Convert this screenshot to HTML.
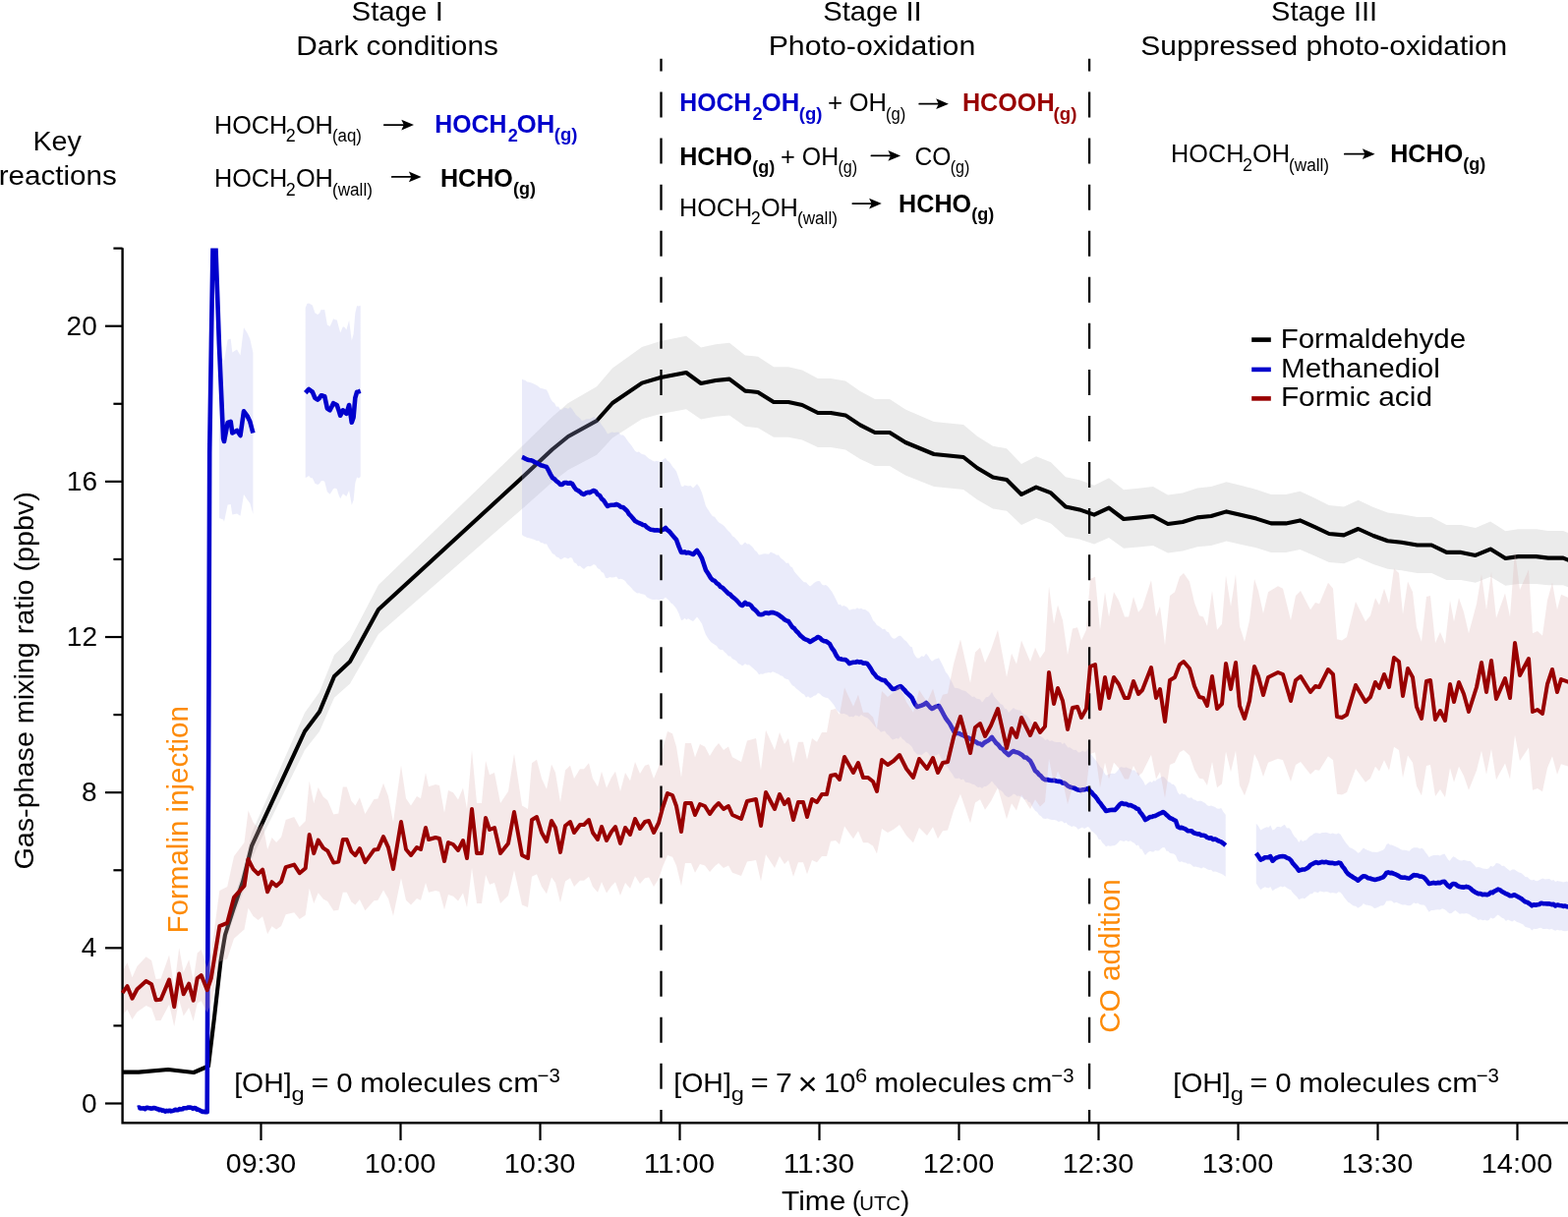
<!DOCTYPE html>
<html><head><meta charset="utf-8"><title>Formaldehyde, methanediol and formic acid time series</title>
<style>html,body{margin:0;padding:0;background:#fff;}svg{display:block;}text{font-family:"Liberation Sans", Arial, Helvetica, sans-serif;}</style>
</head><body>
<svg width="1595" height="1238" viewBox="0 0 1595 1238">
<rect width="1595" height="1238" fill="#fff"/>
<text x="357.59" y="21.30" font-size="28" textLength="93.23" lengthAdjust="spacingAndGlyphs">Stage I</text>
<text x="301.30" y="55.80" font-size="28" textLength="205.66" lengthAdjust="spacingAndGlyphs">Dark conditions</text>
<text x="837.20" y="21.30" font-size="28" textLength="100.53" lengthAdjust="spacingAndGlyphs">Stage II</text>
<text x="781.66" y="55.80" font-size="28" textLength="210.64" lengthAdjust="spacingAndGlyphs">Photo-oxidation</text>
<text x="1293.11" y="21.30" font-size="28" textLength="107.94" lengthAdjust="spacingAndGlyphs">Stage III</text>
<text x="1160.26" y="55.80" font-size="28" textLength="372.98" lengthAdjust="spacingAndGlyphs">Suppressed photo-oxidation</text>
<text x="33.40" y="152.90" font-size="28" textLength="49.40" lengthAdjust="spacingAndGlyphs">Key</text>
<text x="-1.35" y="188.10" font-size="28" textLength="120.18" lengthAdjust="spacingAndGlyphs">reactions</text>
<text x="217.98" y="135.50" font-size="25" textLength="74.35" lengthAdjust="spacingAndGlyphs">HOCH</text>
<text x="290.81" y="143.90" font-size="18" textLength="9.95" lengthAdjust="spacingAndGlyphs">2</text>
<text x="300.93" y="135.50" font-size="25" textLength="37.99" lengthAdjust="spacingAndGlyphs">OH</text>
<text x="337.96" y="143.70" font-size="18" textLength="29.99" lengthAdjust="spacingAndGlyphs">(aq)</text>
<line x1="390.80" y1="127.10" x2="412.00" y2="127.10" stroke="#000" stroke-width="1.75" stroke-linecap="round"/>
<path d="M421.00,127.10 L408.30,121.70 L410.80,127.10 L408.30,132.50 Z" fill="#000"/>
<text x="442.36" y="135.10" font-size="25" font-weight="bold" fill="#0000cc" textLength="73.03" lengthAdjust="spacingAndGlyphs">HOCH</text>
<text x="516.70" y="143.70" font-size="18" font-weight="bold" fill="#0000cc" textLength="10.07" lengthAdjust="spacingAndGlyphs">2</text>
<text x="525.87" y="135.10" font-size="25" font-weight="bold" fill="#0000cc" textLength="38.46" lengthAdjust="spacingAndGlyphs">OH</text>
<text x="563.83" y="143.30" font-size="18" font-weight="bold" fill="#0000cc" textLength="23.69" lengthAdjust="spacingAndGlyphs">(g)</text>
<text x="217.98" y="190.30" font-size="25" textLength="74.35" lengthAdjust="spacingAndGlyphs">HOCH</text>
<text x="290.81" y="198.70" font-size="18" textLength="9.95" lengthAdjust="spacingAndGlyphs">2</text>
<text x="300.93" y="190.30" font-size="25" textLength="37.99" lengthAdjust="spacingAndGlyphs">OH</text>
<text x="337.95" y="198.50" font-size="18" textLength="41.01" lengthAdjust="spacingAndGlyphs">(wall)</text>
<line x1="398.80" y1="179.90" x2="419.60" y2="179.90" stroke="#000" stroke-width="1.75" stroke-linecap="round"/>
<path d="M428.60,179.90 L415.90,174.50 L418.40,179.90 L415.90,185.30 Z" fill="#000"/>
<text x="447.94" y="189.80" font-size="25" font-weight="bold" textLength="73.92" lengthAdjust="spacingAndGlyphs">HCHO</text>
<text x="522.05" y="198.00" font-size="18" font-weight="bold">(g)</text>
<text x="691.26" y="113.30" font-size="25" font-weight="bold" fill="#0000cc" textLength="73.03" lengthAdjust="spacingAndGlyphs">HOCH</text>
<text x="765.60" y="121.90" font-size="18" font-weight="bold" fill="#0000cc" textLength="10.07" lengthAdjust="spacingAndGlyphs">2</text>
<text x="774.77" y="113.30" font-size="25" font-weight="bold" fill="#0000cc" textLength="38.46" lengthAdjust="spacingAndGlyphs">OH</text>
<text x="812.73" y="121.50" font-size="18" font-weight="bold" fill="#0000cc" textLength="23.69" lengthAdjust="spacingAndGlyphs">(g)</text>
<text x="842.00" y="113.30" font-size="25" textLength="15.14" lengthAdjust="spacingAndGlyphs">+</text>
<text x="863.72" y="113.30" font-size="25" textLength="38.32" lengthAdjust="spacingAndGlyphs">OH</text>
<text x="900.88" y="121.50" font-size="18" textLength="20.35" lengthAdjust="spacingAndGlyphs">(g)</text>
<line x1="935.20" y1="105.70" x2="955.90" y2="105.70" stroke="#000" stroke-width="1.75" stroke-linecap="round"/>
<path d="M964.90,105.70 L952.20,100.30 L954.70,105.70 L952.20,111.10 Z" fill="#000"/>
<text x="978.94" y="113.30" font-size="25" font-weight="bold" fill="#990000" textLength="93.62" lengthAdjust="spacingAndGlyphs">HCOOH</text>
<text x="1071.62" y="121.50" font-size="18" font-weight="bold" fill="#990000" textLength="23.91" lengthAdjust="spacingAndGlyphs">(g)</text>
<text x="691.24" y="168.20" font-size="25" font-weight="bold" textLength="73.92" lengthAdjust="spacingAndGlyphs">HCHO</text>
<text x="765.35" y="176.40" font-size="18" font-weight="bold">(g)</text>
<text x="794.02" y="168.20" font-size="25" textLength="14.90" lengthAdjust="spacingAndGlyphs">+</text>
<text x="815.86" y="168.20" font-size="25" textLength="37.34" lengthAdjust="spacingAndGlyphs">OH</text>
<text x="852.40" y="176.40" font-size="18" textLength="19.69" lengthAdjust="spacingAndGlyphs">(g)</text>
<line x1="886.40" y1="158.40" x2="907.10" y2="158.40" stroke="#000" stroke-width="1.75" stroke-linecap="round"/>
<path d="M916.10,158.40 L903.40,153.00 L905.90,158.40 L903.40,163.80 Z" fill="#000"/>
<text x="930.47" y="168.20" font-size="25" textLength="36.96" lengthAdjust="spacingAndGlyphs">CO</text>
<text x="966.71" y="176.40" font-size="18" textLength="19.69" lengthAdjust="spacingAndGlyphs">(g)</text>
<text x="690.98" y="219.90" font-size="25" textLength="74.35" lengthAdjust="spacingAndGlyphs">HOCH</text>
<text x="763.81" y="228.30" font-size="18" textLength="9.95" lengthAdjust="spacingAndGlyphs">2</text>
<text x="773.93" y="219.90" font-size="25" textLength="37.99" lengthAdjust="spacingAndGlyphs">OH</text>
<text x="810.95" y="228.10" font-size="18" textLength="41.01" lengthAdjust="spacingAndGlyphs">(wall)</text>
<line x1="867.30" y1="207.10" x2="887.80" y2="207.10" stroke="#000" stroke-width="1.75" stroke-linecap="round"/>
<path d="M896.80,207.10 L884.10,201.70 L886.60,207.10 L884.10,212.50 Z" fill="#000"/>
<text x="914.14" y="215.80" font-size="25" font-weight="bold" textLength="73.92" lengthAdjust="spacingAndGlyphs">HCHO</text>
<text x="988.25" y="224.00" font-size="18" font-weight="bold">(g)</text>
<text x="1191.08" y="165.40" font-size="25" textLength="74.35" lengthAdjust="spacingAndGlyphs">HOCH</text>
<text x="1263.91" y="173.80" font-size="18" textLength="9.95" lengthAdjust="spacingAndGlyphs">2</text>
<text x="1274.03" y="165.40" font-size="25" textLength="37.99" lengthAdjust="spacingAndGlyphs">OH</text>
<text x="1311.05" y="173.60" font-size="18" textLength="41.01" lengthAdjust="spacingAndGlyphs">(wall)</text>
<line x1="1367.80" y1="156.70" x2="1389.60" y2="156.70" stroke="#000" stroke-width="1.75" stroke-linecap="round"/>
<path d="M1398.60,156.70 L1385.90,151.30 L1388.40,156.70 L1385.90,162.10 Z" fill="#000"/>
<text x="1414.24" y="164.80" font-size="25" font-weight="bold" textLength="73.92" lengthAdjust="spacingAndGlyphs">HCHO</text>
<text x="1488.35" y="173.00" font-size="18" font-weight="bold">(g)</text>
<polygon points="124.0,1089.0 141.0,1089.0 171.0,1086.3 197.0,1089.4 212.0,1082.6 218.0,1030.6 224.4,971.2 229.0,942.4 236.9,916.5 247.0,885.7 256.0,847.6 267.4,821.5 310.0,725.1 325.0,704.1 340.0,666.3 356.0,650.5 385.0,594.9 532.0,453.1 562.0,423.7 578.0,410.1 607.0,393.3 623.0,374.4 653.0,353.0 672.0,347.1 698.0,341.8 713.0,353.4 728.0,350.2 742.0,348.8 758.0,361.4 771.0,362.8 787.0,373.3 802.0,373.3 816.0,376.5 832.0,384.9 845.0,384.9 860.0,387.4 875.0,397.9 890.0,405.9 905.0,405.9 921.0,416.4 950.0,429.0 980.0,432.1 994.0,443.7 1010.0,453.8 1024.0,456.3 1039.0,472.0 1054.0,464.3 1069.0,470.3 1084.0,485.3 1098.0,488.2 1113.0,493.7 1128.0,486.3 1143.0,498.3 1158.0,496.8 1173.0,495.1 1188.0,503.5 1203.0,501.4 1218.0,496.6 1232.0,495.1 1247.6,490.3 1263.0,494.1 1278.0,497.9 1293.0,502.9 1308.0,502.9 1322.4,499.7 1338.0,507.1 1352.0,514.0 1367.0,515.5 1381.6,508.8 1397.0,516.1 1411.6,521.6 1425.7,523.2 1441.6,526.1 1456.2,526.1 1471.5,533.9 1486.2,533.9 1500.9,537.0 1516.1,530.4 1531.4,540.3 1544.3,538.3 1562.6,538.3 1574.8,539.9 1590.1,539.9 1596.0,542.4 1596.0,597.6 1590.1,595.3 1574.8,595.3 1562.6,593.9 1544.3,593.9 1531.4,595.7 1516.1,586.8 1500.9,592.8 1486.2,589.9 1471.5,589.9 1456.2,582.9 1441.6,582.9 1425.7,580.2 1411.6,578.8 1397.0,573.9 1381.6,567.2 1367.0,573.3 1352.0,572.0 1338.0,565.7 1322.4,559.1 1308.0,561.9 1293.0,561.9 1278.0,557.3 1263.0,553.9 1247.6,550.5 1232.0,554.9 1218.0,556.2 1203.0,560.6 1188.0,562.5 1173.0,554.9 1158.0,556.4 1143.0,557.7 1128.0,546.9 1113.0,553.5 1098.0,548.6 1084.0,545.9 1069.0,532.5 1054.0,526.9 1039.0,534.0 1024.0,519.7 1010.0,517.4 994.0,508.3 980.0,497.9 950.0,495.0 921.0,483.6 905.0,474.1 890.0,474.1 875.0,466.9 860.0,457.4 845.0,455.1 832.0,455.1 816.0,447.5 802.0,444.7 787.0,444.7 771.0,435.2 758.0,433.8 742.0,422.4 728.0,423.8 713.0,426.6 698.0,416.2 672.0,420.9 653.0,426.2 623.0,445.6 607.0,462.7 578.0,477.9 562.0,490.3 532.0,516.9 385.0,645.1 356.0,695.5 340.0,709.7 325.0,743.9 310.0,762.9 267.4,850.1 256.0,873.8 247.0,908.3 236.9,936.1 229.0,959.6 224.4,985.6 218.0,1039.4 212.0,1086.4 197.0,1092.6 171.0,1089.7 141.0,1092.2 124.0,1092.2" fill="#ebebeb"/>
<polyline points="124.0,1090.6 141.0,1090.6 171.0,1088.0 197.0,1091.0 212.0,1084.5 218.0,1035.0 224.4,978.4 229.0,951.0 236.9,926.3 247.0,897.0 256.0,860.7 267.4,835.8 310.0,744.0 325.0,724.0 340.0,688.0 356.0,673.0 385.0,620.0 532.0,485.0 562.0,457.0 578.0,444.0 607.0,428.0 623.0,410.0 653.0,389.6 672.0,384.0 698.0,379.0 713.0,390.0 728.0,387.0 742.0,385.6 758.0,397.6 771.0,399.0 787.0,409.0 802.0,409.0 816.0,412.0 832.0,420.0 845.0,420.0 860.0,422.4 875.0,432.4 890.0,440.0 905.0,440.0 921.0,450.0 950.0,462.0 980.0,465.0 994.0,476.0 1010.0,485.6 1024.0,488.0 1039.0,503.0 1054.0,495.6 1069.0,501.4 1084.0,515.6 1098.0,518.4 1113.0,523.6 1128.0,516.6 1143.0,528.0 1158.0,526.6 1173.0,525.0 1188.0,533.0 1203.0,531.0 1218.0,526.4 1232.0,525.0 1247.6,520.4 1263.0,524.0 1278.0,527.6 1293.0,532.4 1308.0,532.4 1322.4,529.4 1338.0,536.4 1352.0,543.0 1367.0,544.4 1381.6,538.0 1397.0,545.0 1411.6,550.2 1425.7,551.7 1441.6,554.5 1456.2,554.5 1471.5,561.9 1486.2,561.9 1500.9,564.9 1516.1,558.6 1531.4,568.0 1544.3,566.1 1562.6,566.1 1574.8,567.6 1590.1,567.6 1596.0,570.0" fill="none" stroke="#000" stroke-width="4.1" stroke-linejoin="round"/>
<polygon points="223.0,364.5 227.1,364.8 228.0,367.5 231.6,345.5 234.7,344.8 236.3,358.5 241.0,355.4 244.5,361.4 248.0,333.2 251.5,338.8 254.3,344.8 257.4,358.7 257.4,522.7 254.3,512.1 251.5,508.2 248.0,502.9 244.5,524.7 241.0,522.4 236.3,523.4 234.7,513.1 231.6,513.5 228.0,530.7 227.1,528.4 223.0,527.1" fill="rgb(171,175,235)" fill-opacity="0.25"/>
<polygon points="310.7,312.9 312.4,309.0 314.2,308.5 316.0,309.6 317.8,310.6 320.4,318.2 323.1,319.9 324.9,318.8 326.7,315.1 328.4,315.3 330.2,315.1 332.9,330.4 335.6,332.1 337.4,328.2 339.1,324.3 340.9,325.2 342.7,325.5 344.4,332.1 346.2,338.6 348.9,332.3 350.6,333.0 352.4,335.4 355.1,326.1 357.8,346.4 359.6,339.7 361.3,318.8 363.1,311.1 364.9,311.4 366.7,310.7 366.7,485.1 364.9,486.5 363.1,485.6 361.3,491.4 359.6,508.7 357.8,513.8 355.1,499.1 352.4,505.1 350.6,503.6 348.9,502.2 346.2,507.3 344.4,503.1 342.7,497.5 340.9,496.5 339.1,497.3 337.4,499.9 335.6,502.8 332.9,500.3 330.2,489.7 328.4,488.9 326.7,489.3 324.9,492.1 323.1,493.1 320.4,491.8 317.8,486.3 316.0,486.3 314.2,483.9 312.4,485.2 310.7,486.1" fill="rgb(171,175,235)" fill-opacity="0.25"/>
<polygon points="531.0,385.8 532.8,386.4 534.5,386.9 536.2,388.5 538.0,388.8 540.0,389.3 542.0,390.0 544.0,390.9 546.0,392.1 548.0,393.5 550.0,395.1 552.0,395.2 554.0,396.1 556.0,396.5 558.0,400.6 560.0,405.4 562.0,408.5 564.0,409.9 566.0,413.8 568.0,413.6 570.0,416.7 572.0,416.7 574.0,414.8 576.0,415.0 578.0,416.1 580.0,413.9 582.0,416.2 584.0,419.2 586.0,422.2 588.0,423.8 590.0,425.4 592.0,427.9 594.0,427.6 596.0,426.6 598.0,426.3 600.0,426.2 602.0,425.2 604.0,424.1 606.0,425.2 608.0,427.8 610.0,429.3 612.0,432.2 614.0,434.7 616.0,437.7 618.0,441.6 620.2,440.4 622.5,439.6 624.8,440.1 627.0,439.7 629.2,439.6 631.5,442.4 633.8,442.4 636.0,444.7 638.0,447.7 640.0,450.5 642.0,452.7 644.0,455.7 646.0,458.8 648.0,460.0 650.0,459.6 652.0,461.6 654.0,462.3 656.0,462.7 658.0,464.7 660.0,466.6 662.0,467.4 664.0,468.7 666.0,469.6 668.0,468.7 670.0,469.6 672.0,469.7 674.5,467.6 677.0,465.8 678.8,468.7 680.7,469.8 682.5,472.0 684.3,474.9 686.2,477.1 688.0,479.5 690.5,486.4 693.0,494.5 694.8,495.1 696.5,493.6 698.2,494.0 700.0,494.6 702.5,494.0 705.0,496.6 707.0,494.6 709.0,492.3 711.5,495.4 714.0,501.2 716.0,508.0 718.0,515.0 720.5,518.7 723.0,522.7 725.0,525.3 727.0,525.7 729.0,528.8 731.0,531.2 733.0,532.5 735.0,533.8 737.0,535.6 739.0,538.0 741.0,540.2 743.0,542.1 745.0,545.3 747.0,546.4 749.0,548.8 751.0,550.7 753.0,554.1 755.0,554.6 756.5,552.8 758.0,551.6 760.0,553.4 762.0,553.2 764.0,555.0 766.0,557.1 768.0,559.9 770.0,561.6 772.0,564.6 774.0,564.2 776.0,563.4 778.0,563.3 780.0,563.6 782.0,563.8 784.0,561.4 786.0,562.4 788.0,563.3 790.0,564.8 792.0,564.6 794.0,567.4 796.0,568.9 798.0,570.8 800.0,572.9 802.0,572.5 804.0,576.2 806.0,577.2 808.0,581.4 810.0,583.8 812.0,586.0 814.0,588.3 816.0,590.4 818.0,592.3 820.0,592.5 822.0,594.7 824.0,596.6 826.0,595.1 828.0,593.0 830.0,591.7 832.0,590.9 834.0,591.3 836.0,594.6 838.0,595.6 840.0,595.1 842.0,596.6 844.0,598.9 846.2,602.0 848.5,606.1 850.8,610.8 853.0,615.2 854.8,614.7 856.5,616.8 858.2,616.0 860.0,616.8 862.0,617.9 864.0,620.8 866.0,619.9 868.0,619.4 870.0,619.7 872.0,618.2 874.0,619.4 876.0,618.7 878.0,620.0 880.0,620.1 882.0,621.4 884.0,622.7 886.0,626.3 888.0,631.1 890.0,632.9 892.0,636.1 894.0,637.0 896.0,638.5 898.0,640.3 900.0,639.8 902.0,642.4 904.0,643.2 906.0,646.9 908.0,649.3 910.0,649.8 912.0,648.5 914.0,647.1 916.0,646.7 918.0,648.7 920.0,651.0 922.0,652.6 924.0,655.0 926.0,657.7 927.8,658.2 929.5,664.4 931.2,667.5 933.0,669.5 935.2,669.4 937.5,667.3 939.8,668.1 942.0,664.7 944.0,666.9 946.0,670.4 948.0,672.7 949.8,671.5 951.5,670.6 953.2,670.0 955.0,669.2 957.5,674.0 960.0,679.0 962.0,683.7 964.0,685.9 966.0,689.5 968.5,694.3 971.0,699.7 973.2,700.1 975.5,700.5 977.8,701.8 980.0,702.6 982.2,702.9 984.5,705.2 986.8,707.0 989.0,708.9 991.0,708.4 993.0,710.6 995.0,711.1 997.0,711.6 999.0,714.5 1001.0,712.0 1003.0,709.3 1005.0,708.9 1007.0,706.9 1009.0,703.9 1011.2,708.5 1013.5,711.2 1015.8,713.7 1018.0,716.3 1020.0,717.0 1022.0,720.7 1024.0,721.3 1026.0,725.0 1028.5,722.4 1031.0,719.9 1032.8,721.5 1034.5,721.9 1036.2,722.6 1038.0,722.4 1040.0,725.6 1042.0,727.0 1044.0,727.7 1046.0,729.7 1048.0,731.9 1050.5,737.3 1053.0,743.0 1055.0,745.0 1057.0,746.5 1059.0,749.5 1061.0,750.6 1063.2,753.1 1065.5,751.8 1067.8,754.1 1070.0,753.2 1072.2,754.4 1074.5,754.9 1076.8,755.0 1079.0,754.9 1080.8,757.2 1082.7,755.6 1084.5,758.1 1086.3,760.5 1088.2,760.2 1090.0,761.4 1092.2,763.0 1094.5,762.8 1096.8,765.6 1099.0,765.2 1101.0,763.8 1103.0,764.7 1105.0,764.5 1107.0,761.3 1108.8,766.2 1110.5,768.0 1112.2,770.4 1114.0,772.7 1115.8,774.5 1117.7,777.9 1119.5,780.5 1121.3,782.0 1123.2,786.0 1125.0,788.8 1127.2,787.9 1129.5,787.0 1131.8,786.7 1134.0,786.9 1135.8,785.2 1137.5,783.2 1139.2,780.5 1141.0,780.3 1143.2,781.1 1145.5,780.5 1147.8,781.6 1150.0,782.3 1152.0,783.8 1154.0,783.2 1156.0,785.7 1158.0,785.9 1159.8,790.3 1161.5,792.4 1163.2,795.1 1165.0,799.0 1167.5,796.7 1170.0,794.9 1171.8,795.9 1173.5,794.0 1175.2,794.8 1177.0,792.8 1179.0,791.9 1181.0,790.6 1183.0,790.0 1184.8,790.9 1186.5,793.3 1188.2,795.2 1190.0,795.8 1192.0,797.8 1194.0,797.9 1196.0,800.4 1198.0,806.1 1200.0,808.4 1202.0,807.0 1204.0,808.1 1206.0,808.6 1208.0,811.3 1210.0,811.7 1212.0,811.3 1214.0,813.2 1216.0,813.8 1218.0,815.2 1220.0,814.7 1222.0,814.8 1224.0,815.9 1226.0,817.1 1228.0,819.2 1230.0,819.9 1232.0,819.4 1234.0,820.3 1236.0,821.1 1238.0,822.4 1240.0,822.8 1242.2,822.1 1244.5,825.9 1246.7,828.8 1246.7,891.7 1244.5,889.9 1242.2,888.7 1240.0,888.1 1238.0,887.1 1236.0,886.6 1234.0,886.8 1232.0,884.8 1230.0,885.1 1228.0,884.2 1226.0,882.9 1224.0,882.2 1222.0,883.4 1220.0,882.4 1218.0,882.1 1216.0,881.4 1214.0,881.7 1212.0,879.8 1210.0,878.4 1208.0,878.8 1206.0,877.4 1204.0,877.3 1202.0,876.2 1200.0,877.1 1198.0,875.2 1196.0,870.2 1194.0,868.4 1192.0,868.2 1190.0,867.7 1188.2,865.8 1186.5,865.8 1184.8,862.3 1183.0,862.0 1181.0,863.2 1179.0,865.3 1177.0,865.4 1175.2,864.9 1173.5,866.6 1171.8,866.4 1170.0,865.8 1167.5,867.2 1165.0,870.0 1163.2,866.9 1161.5,863.8 1159.8,863.5 1158.0,859.5 1156.0,860.2 1154.0,857.8 1152.0,856.8 1150.0,855.3 1147.8,855.9 1145.5,855.0 1143.2,856.0 1141.0,855.3 1139.2,854.9 1137.5,857.0 1135.8,858.8 1134.0,859.9 1131.8,860.2 1129.5,860.7 1127.2,860.3 1125.0,861.2 1123.2,859.1 1121.3,857.3 1119.5,854.0 1117.7,854.1 1115.8,849.9 1114.0,848.2 1112.2,846.4 1110.5,845.5 1108.8,843.0 1107.0,841.1 1105.0,841.8 1103.0,843.0 1101.0,841.6 1099.0,842.4 1096.8,843.7 1094.5,841.2 1092.2,840.2 1090.0,840.9 1088.2,839.8 1086.3,839.0 1084.5,836.7 1082.7,837.6 1080.8,835.5 1079.0,835.3 1076.8,836.0 1074.5,834.5 1072.2,834.1 1070.0,834.0 1067.8,833.6 1065.5,832.5 1063.2,833.1 1061.0,832.4 1059.0,830.3 1057.0,829.1 1055.0,826.0 1053.0,824.8 1050.5,821.3 1048.0,816.3 1046.0,815.8 1044.0,812.9 1042.0,813.4 1040.0,811.3 1038.0,810.2 1036.2,809.5 1034.5,809.8 1032.8,808.3 1031.0,807.5 1028.5,809.8 1026.0,810.9 1024.0,810.3 1022.0,808.8 1020.0,805.8 1018.0,804.1 1015.8,803.0 1013.5,799.8 1011.2,797.6 1009.0,794.6 1007.0,796.8 1005.0,798.4 1003.0,799.9 1001.0,800.1 999.0,801.9 997.0,800.6 995.0,800.9 993.0,799.7 991.0,798.0 989.0,797.7 986.8,796.6 984.5,795.9 982.2,795.7 980.0,792.6 977.8,793.2 975.5,791.5 973.2,791.9 971.0,791.6 968.5,787.1 966.0,783.8 964.0,780.5 962.0,778.1 960.0,775.4 957.5,771.5 955.0,766.4 953.2,768.0 951.5,768.2 949.8,769.2 948.0,769.4 946.0,769.1 944.0,765.7 942.0,764.6 939.8,766.2 937.5,768.0 935.2,767.6 933.0,767.6 931.2,765.5 929.5,763.8 927.8,759.9 926.0,758.1 924.0,756.3 922.0,755.6 920.0,752.9 918.0,751.7 916.0,749.1 914.0,751.8 912.0,751.0 910.0,751.7 908.0,752.5 906.0,750.4 904.0,748.0 902.0,746.5 900.0,743.5 898.0,744.1 896.0,744.8 894.0,742.3 892.0,741.1 890.0,739.0 888.0,736.4 886.0,734.1 884.0,731.8 882.0,729.9 880.0,729.6 878.0,728.3 876.0,727.1 874.0,728.9 872.0,728.0 870.0,727.5 868.0,729.4 866.0,728.8 864.0,729.3 862.0,727.2 860.0,726.4 858.2,725.8 856.5,726.3 854.8,725.4 853.0,724.3 850.8,722.0 848.5,717.6 846.2,714.5 844.0,712.0 842.0,709.9 840.0,709.7 838.0,709.1 836.0,707.8 834.0,705.8 832.0,704.9 830.0,707.2 828.0,707.7 826.0,709.2 824.0,710.0 822.0,708.3 820.0,709.4 818.0,706.5 816.0,705.6 814.0,703.8 812.0,702.0 810.0,700.4 808.0,698.3 806.0,697.3 804.0,694.5 802.0,691.3 800.0,690.7 798.0,690.0 796.0,687.7 794.0,687.3 792.0,685.7 790.0,685.1 788.0,684.0 786.0,683.2 784.0,684.6 782.0,684.1 780.0,684.6 778.0,684.7 776.0,685.8 774.0,685.4 772.0,686.2 770.0,683.3 768.0,681.4 766.0,679.7 764.0,677.9 762.0,676.3 760.0,676.6 758.0,675.2 756.5,676.4 755.0,677.3 753.0,675.7 751.0,675.0 749.0,672.2 747.0,671.0 745.0,670.2 743.0,667.6 741.0,667.5 739.0,665.1 737.0,663.3 735.0,661.1 733.0,661.1 731.0,660.1 729.0,656.9 727.0,655.7 725.0,654.5 723.0,653.1 720.5,649.7 718.0,645.7 716.0,640.4 714.0,634.5 711.5,630.7 709.0,627.5 707.0,629.9 705.0,632.1 702.5,630.8 700.0,629.3 698.2,630.6 696.5,628.8 694.8,630.4 693.0,631.0 690.5,624.1 688.0,619.0 686.2,616.7 684.3,614.6 682.5,613.6 680.7,611.0 678.8,609.3 677.0,607.6 674.5,609.8 672.0,610.2 670.0,610.2 668.0,609.7 666.0,610.0 664.0,610.1 662.0,609.4 660.0,608.6 658.0,607.6 656.0,605.0 654.0,604.5 652.0,604.1 650.0,603.3 648.0,603.6 646.0,601.9 644.0,600.3 642.0,597.8 640.0,595.8 638.0,594.0 636.0,590.9 633.8,589.5 631.5,588.8 629.2,589.3 627.0,586.5 624.8,587.2 622.5,587.6 620.2,586.9 618.0,588.3 616.0,587.7 614.0,582.7 612.0,582.0 610.0,579.1 608.0,578.2 606.0,574.9 604.0,574.1 602.0,575.5 600.0,576.2 598.0,575.7 596.0,577.0 594.0,579.1 592.0,577.6 590.0,575.5 588.0,575.9 586.0,573.1 584.0,572.3 582.0,567.8 580.0,567.0 578.0,568.6 576.0,567.5 574.0,567.1 572.0,568.5 570.0,568.9 568.0,566.9 566.0,566.4 564.0,564.1 562.0,563.2 560.0,560.1 558.0,557.2 556.0,553.2 554.0,553.5 552.0,552.2 550.0,552.1 548.0,550.1 546.0,550.3 544.0,549.0 542.0,548.4 540.0,547.8 538.0,547.2 536.2,546.9 534.5,546.1 532.8,545.5 531.0,544.0" fill="rgb(171,175,235)" fill-opacity="0.25"/>
<polygon points="1277.8,837.7 1280.0,840.2 1282.3,844.4 1284.5,843.2 1286.7,842.0 1288.6,841.2 1290.4,841.8 1292.3,839.5 1294.5,844.5 1296.8,843.5 1299.0,841.0 1301.0,841.0 1302.9,841.4 1304.8,840.1 1306.8,838.7 1309.0,842.5 1311.2,842.3 1313.1,844.3 1314.9,847.9 1316.8,851.0 1319.0,852.9 1321.2,857.1 1323.2,854.0 1325.1,855.9 1327.0,855.1 1329.0,854.5 1331.0,851.9 1332.9,850.6 1334.8,849.4 1336.8,847.8 1338.8,847.2 1340.7,847.6 1342.6,848.0 1344.6,847.0 1346.8,847.0 1349.1,846.8 1351.3,847.6 1353.5,848.3 1355.7,847.5 1357.7,848.2 1359.6,848.6 1361.5,847.6 1363.5,848.7 1365.5,852.0 1367.4,854.9 1369.3,857.8 1371.3,859.9 1373.0,862.2 1374.7,862.7 1376.9,864.0 1379.1,865.5 1381.3,867.8 1383.2,867.1 1385.0,864.7 1386.9,862.6 1389.1,863.9 1391.4,864.9 1393.6,865.7 1395.8,866.8 1398.0,866.7 1400.2,867.1 1402.4,866.5 1404.7,865.5 1406.9,864.7 1408.6,862.9 1410.3,859.3 1412.1,858.1 1414.0,859.5 1415.8,859.6 1418.0,860.5 1420.2,861.6 1422.5,862.5 1424.7,864.0 1426.9,864.7 1429.2,864.7 1431.4,865.3 1433.6,865.7 1435.8,863.6 1438.1,862.3 1440.1,862.2 1442.1,862.2 1444.1,863.5 1446.1,862.8 1448.1,864.1 1450.0,867.0 1451.8,869.2 1453.7,872.0 1455.9,870.7 1458.2,870.1 1460.4,870.0 1462.6,869.7 1464.8,870.4 1467.1,869.3 1469.3,868.6 1471.1,871.3 1473.0,874.5 1474.8,875.7 1476.5,873.3 1478.2,871.3 1480.4,872.3 1482.6,873.9 1484.8,875.2 1487.0,875.6 1489.2,874.8 1491.5,875.4 1493.7,876.1 1495.7,876.0 1497.7,878.1 1499.7,880.0 1501.7,882.5 1503.7,882.0 1505.9,882.5 1508.2,883.6 1510.4,883.7 1512.6,884.1 1514.5,883.3 1516.3,880.7 1518.2,881.7 1520.1,880.4 1521.9,877.9 1523.8,878.2 1525.8,879.0 1527.9,881.0 1529.9,880.8 1531.9,882.8 1534.0,884.2 1536.0,885.9 1538.2,884.5 1540.5,884.5 1542.7,886.0 1545.0,887.4 1547.2,887.9 1549.4,889.8 1551.6,891.9 1553.8,892.2 1556.1,894.5 1558.3,895.6 1560.2,894.7 1562.0,896.0 1563.8,896.2 1565.7,895.2 1567.6,894.2 1569.4,893.4 1571.6,894.5 1573.8,894.2 1576.1,894.1 1578.3,895.7 1580.3,895.1 1582.2,897.1 1584.2,896.0 1586.2,896.6 1588.1,896.8 1590.1,897.4 1592.1,897.0 1594.0,896.4 1596.0,898.4 1596.0,946.3 1594.0,946.9 1592.1,947.3 1590.1,947.1 1588.1,946.2 1586.2,946.4 1584.2,945.7 1582.2,946.7 1580.3,946.1 1578.3,944.7 1576.1,945.4 1573.8,944.7 1571.6,944.9 1569.4,944.9 1567.6,943.7 1565.7,944.1 1563.8,944.7 1562.0,944.9 1560.2,944.7 1558.3,946.4 1556.1,943.9 1553.8,943.4 1551.6,943.0 1549.4,940.6 1547.2,939.4 1545.0,938.4 1542.7,937.8 1540.5,936.0 1538.2,937.6 1536.0,936.4 1534.0,935.5 1531.9,936.9 1529.9,934.4 1527.9,933.7 1525.8,932.1 1523.8,930.5 1521.9,932.1 1520.1,934.0 1518.2,934.5 1516.3,933.5 1514.5,936.0 1512.6,936.4 1510.4,935.7 1508.2,936.3 1505.9,935.2 1503.7,935.9 1501.7,934.1 1499.7,933.0 1497.7,932.4 1495.7,930.7 1493.7,929.8 1491.5,929.0 1489.2,929.4 1487.0,929.2 1484.8,929.8 1482.6,927.8 1480.4,926.0 1478.2,927.6 1476.5,929.1 1474.8,929.2 1473.0,928.3 1471.1,926.3 1469.3,925.1 1467.1,924.3 1464.8,925.4 1462.6,925.3 1460.4,925.5 1458.2,926.0 1455.9,925.9 1453.7,927.7 1451.8,924.9 1450.0,921.8 1448.1,920.4 1446.1,920.6 1444.1,920.1 1442.1,918.6 1440.1,919.2 1438.1,918.2 1435.8,920.5 1433.6,921.3 1431.4,921.1 1429.2,920.2 1426.9,920.5 1424.7,919.8 1422.5,918.8 1420.2,917.8 1418.0,918.8 1415.8,916.4 1414.0,916.3 1412.1,916.4 1410.3,916.6 1408.6,919.8 1406.9,921.2 1404.7,921.2 1402.4,922.5 1400.2,923.6 1398.0,924.0 1395.8,922.0 1393.6,921.2 1391.4,920.8 1389.1,920.5 1386.9,919.1 1385.0,921.4 1383.2,922.5 1381.3,923.7 1379.1,921.8 1376.9,921.4 1374.7,920.0 1373.0,918.6 1371.3,917.7 1369.3,915.3 1367.4,913.1 1365.5,910.0 1363.5,907.8 1361.5,907.2 1359.6,908.8 1357.7,908.4 1355.7,908.0 1353.5,908.5 1351.3,907.6 1349.1,906.9 1346.8,907.5 1344.6,906.9 1342.6,906.6 1340.7,908.3 1338.8,907.6 1336.8,907.2 1334.8,909.3 1332.9,909.2 1331.0,911.1 1329.0,912.4 1327.0,914.3 1325.1,913.4 1323.2,914.2 1321.2,915.0 1319.0,912.0 1316.8,910.1 1314.9,908.1 1313.1,905.3 1311.2,904.4 1309.0,903.3 1306.8,901.6 1304.8,902.4 1302.9,901.4 1301.0,902.6 1299.0,903.6 1296.8,904.5 1294.5,906.2 1292.3,901.9 1290.4,903.6 1288.6,902.9 1286.7,902.2 1284.5,903.6 1282.3,904.9 1280.0,902.0 1277.8,898.4" fill="rgb(171,175,235)" fill-opacity="0.25"/>
<clipPath id="plotclip"><rect x="0" y="252.6" width="1595" height="1000"/></clipPath>
<polyline points="140.0,1127.0 141.5,1126.5 143.0,1127.5 144.5,1127.5 146.0,1127.4 147.5,1128.1 149.0,1126.9 150.5,1126.9 152.0,1127.2 153.5,1127.6 155.0,1127.5 156.5,1127.0 158.0,1127.3 159.4,1128.1 160.8,1128.1 162.2,1129.2 163.6,1128.7 165.0,1129.8 166.5,1129.5 168.0,1130.6 169.5,1129.9 171.0,1130.2 172.5,1129.7 174.0,1130.4 175.5,1130.0 177.0,1129.6 178.4,1128.8 179.8,1129.2 181.2,1129.1 182.6,1128.1 184.0,1128.4 185.5,1128.3 187.0,1127.2 188.5,1127.2 190.0,1127.2 191.7,1126.5 193.3,1126.6 195.0,1127.0 196.3,1127.8 197.7,1127.0 199.0,1127.2 200.3,1128.7 201.7,1128.6 203.0,1129.4 204.3,1130.0 205.7,1130.9 207.0,1130.8 208.8,1131.3 210.7,1131.2 211.2,1000.0 212.4,700.0 213.2,460.0 214.9,350.0 216.5,253.0 217.6,215.0 219.5,253.0 222.9,350.0 227.1,446.0 228.0,449.0 231.6,430.0 234.7,428.8 236.3,440.5 241.0,438.0 244.5,443.0 248.0,418.3 251.5,423.0 254.3,428.8 257.4,440.5" fill="none" stroke="#0000cc" stroke-width="4.6" stroke-linejoin="round" clip-path="url(#plotclip)"/>
<polyline points="310.7,399.6 312.4,397.7 314.2,396.0 316.0,397.4 317.8,398.7 320.4,404.9 323.1,406.7 324.9,405.0 326.7,402.2 328.4,402.6 330.2,403.1 332.9,415.6 335.6,417.3 337.4,413.8 339.1,410.2 340.9,411.2 342.7,412.0 344.4,416.9 346.2,422.7 348.9,417.3 350.6,419.1 352.4,420.9 355.1,412.0 357.8,429.8 359.6,424.4 361.3,404.9 363.1,398.7 364.9,398.4 366.7,397.8" fill="none" stroke="#0000cc" stroke-width="4.6" stroke-linejoin="round" clip-path="url(#plotclip)"/>
<polyline points="531.0,465.0 532.8,465.7 534.5,466.7 536.2,467.5 538.0,468.0 540.0,468.3 542.0,468.9 544.0,470.2 546.0,470.9 548.0,472.0 550.0,473.2 552.0,473.8 554.0,474.4 556.0,475.0 558.0,478.7 560.0,482.6 562.0,486.0 564.0,487.3 566.0,489.4 568.0,490.8 570.0,493.0 572.0,492.9 574.0,491.0 576.0,491.0 578.0,491.8 580.0,491.1 582.0,492.0 584.0,495.3 586.0,498.0 588.0,499.0 590.0,500.4 592.0,502.2 594.0,503.0 596.0,501.5 598.0,500.8 600.0,501.2 602.0,499.8 604.0,499.0 606.0,500.1 608.0,503.0 610.0,504.0 612.0,507.4 614.0,509.0 616.0,512.1 618.0,515.0 620.2,514.0 622.5,513.7 624.8,513.7 627.0,513.0 629.2,513.8 631.5,515.8 633.8,516.1 636.0,518.0 638.0,519.9 640.0,523.2 642.0,525.1 644.0,527.5 646.0,530.0 648.0,531.1 650.0,532.0 652.0,532.8 654.0,534.0 656.0,534.3 658.0,536.3 660.0,537.7 662.0,538.7 664.0,539.0 666.0,539.5 668.0,539.3 670.0,539.6 672.0,540.0 674.5,538.8 677.0,537.0 678.8,539.2 680.7,540.5 682.5,542.6 684.3,544.8 686.2,547.0 688.0,549.0 690.5,555.9 693.0,562.0 694.8,562.0 696.5,561.3 698.2,562.5 700.0,562.0 702.5,562.9 705.0,564.0 707.0,562.0 709.0,560.0 711.5,563.6 714.0,568.0 716.0,573.9 718.0,580.0 720.5,583.8 723.0,588.0 725.0,590.1 727.0,590.9 729.0,593.3 731.0,594.5 733.0,597.0 735.0,597.9 737.0,599.9 739.0,601.8 741.0,603.9 743.0,604.9 745.0,607.2 747.0,608.6 749.0,610.4 751.0,612.5 753.0,614.9 755.0,616.0 756.5,614.5 758.0,613.0 760.0,614.6 762.0,614.5 764.0,616.0 766.0,618.8 768.0,620.3 770.0,622.3 772.0,625.0 774.0,625.1 776.0,625.0 778.0,623.5 780.0,623.5 782.0,624.0 784.0,623.1 786.0,623.0 788.0,623.6 790.0,624.3 792.0,625.4 794.0,627.0 796.0,628.4 798.0,630.2 800.0,631.4 802.0,632.0 804.0,635.0 806.0,638.0 808.0,639.3 810.0,642.0 812.0,643.8 814.0,646.4 816.0,648.0 818.0,649.7 820.0,650.7 822.0,651.4 824.0,653.0 826.0,651.8 828.0,650.5 830.0,649.4 832.0,648.0 834.0,648.8 836.0,651.0 838.0,652.1 840.0,652.2 842.0,653.5 844.0,655.0 846.2,659.3 848.5,662.2 850.8,666.9 853.0,670.0 854.8,670.3 856.5,670.8 858.2,671.0 860.0,671.0 862.0,672.6 864.0,675.0 866.0,674.2 868.0,673.7 870.0,673.8 872.0,673.0 874.0,673.7 876.0,673.3 878.0,674.7 880.0,674.5 882.0,675.0 884.0,677.4 886.0,680.5 888.0,684.1 890.0,686.3 892.0,689.0 894.0,689.9 896.0,691.1 898.0,691.9 900.0,692.0 902.0,694.6 904.0,696.4 906.0,698.9 908.0,701.0 910.0,700.8 912.0,699.9 914.0,698.9 916.0,698.0 918.0,699.8 920.0,701.8 922.0,704.3 924.0,706.1 926.0,708.0 927.8,710.1 929.5,713.8 931.2,716.8 933.0,719.0 935.2,718.4 937.5,717.6 939.8,716.6 942.0,715.0 944.0,717.0 946.0,719.4 948.0,721.0 949.8,720.1 951.5,718.9 953.2,718.5 955.0,718.0 957.5,722.2 960.0,727.0 962.0,730.6 964.0,733.3 966.0,736.0 968.5,740.6 971.0,745.0 973.2,745.9 975.5,746.0 977.8,747.3 980.0,748.0 982.2,749.5 984.5,750.4 986.8,751.4 989.0,753.0 991.0,753.9 993.0,754.8 995.0,756.3 997.0,756.5 999.0,758.0 1001.0,755.8 1003.0,754.5 1005.0,753.5 1007.0,752.0 1009.0,750.0 1011.2,753.0 1013.5,756.1 1015.8,758.1 1018.0,761.0 1020.0,762.1 1022.0,764.5 1024.0,766.2 1026.0,768.0 1028.5,765.6 1031.0,764.0 1032.8,765.0 1034.5,765.3 1036.2,765.9 1038.0,767.0 1040.0,768.2 1042.0,770.4 1044.0,770.5 1046.0,772.4 1048.0,774.0 1050.5,778.7 1053.0,784.0 1055.0,785.6 1057.0,787.9 1059.0,789.6 1061.0,792.0 1063.2,793.1 1065.5,793.0 1067.8,793.8 1070.0,794.0 1072.2,793.8 1074.5,794.5 1076.8,794.9 1079.0,795.0 1080.8,796.5 1082.7,796.6 1084.5,797.9 1086.3,799.5 1088.2,800.5 1090.0,801.0 1092.2,801.4 1094.5,802.6 1096.8,803.6 1099.0,804.0 1101.0,803.4 1103.0,803.2 1105.0,802.7 1107.0,802.0 1108.8,804.7 1110.5,806.1 1112.2,808.3 1114.0,810.0 1115.8,812.3 1117.7,815.3 1119.5,817.3 1121.3,820.0 1123.2,822.3 1125.0,825.0 1127.2,824.5 1129.5,824.0 1131.8,823.9 1134.0,824.0 1135.8,822.3 1137.5,820.2 1139.2,818.1 1141.0,817.0 1143.2,817.9 1145.5,817.7 1147.8,819.1 1150.0,819.0 1152.0,820.1 1154.0,820.8 1156.0,822.5 1158.0,823.0 1159.8,826.3 1161.5,828.2 1163.2,830.7 1165.0,834.0 1167.5,832.7 1170.0,831.0 1171.8,831.0 1173.5,830.2 1175.2,829.9 1177.0,829.0 1179.0,827.9 1181.0,827.2 1183.0,826.0 1184.8,827.2 1186.5,828.9 1188.2,830.3 1190.0,832.0 1192.0,832.8 1194.0,833.9 1196.0,835.0 1198.0,841.0 1200.0,842.1 1202.0,841.9 1204.0,842.7 1206.0,843.4 1208.0,845.1 1210.0,845.2 1212.0,845.2 1214.0,847.0 1216.0,847.8 1218.0,848.4 1220.0,848.4 1222.0,849.7 1224.0,849.8 1226.0,850.2 1228.0,851.9 1230.0,852.6 1232.0,852.4 1234.0,854.0 1236.0,853.5 1238.0,854.6 1240.0,855.6 1242.2,856.4 1244.5,858.1 1246.7,860.0" fill="none" stroke="#0000cc" stroke-width="4.6" stroke-linejoin="round" clip-path="url(#plotclip)"/>
<polyline points="1277.8,867.9 1280.0,870.9 1282.3,874.6 1284.5,873.7 1286.7,872.3 1288.6,872.2 1290.4,872.1 1292.3,871.2 1294.5,875.7 1296.8,873.6 1299.0,872.3 1301.0,871.6 1302.9,871.3 1304.8,871.1 1306.8,871.2 1309.0,872.6 1311.2,873.4 1313.1,875.1 1314.9,877.9 1316.8,880.1 1319.0,882.5 1321.2,885.7 1323.2,884.9 1325.1,884.5 1327.0,884.5 1329.0,883.5 1331.0,882.3 1332.9,880.0 1334.8,879.0 1336.8,877.9 1338.8,877.1 1340.7,877.9 1342.6,877.5 1344.6,876.8 1346.8,877.2 1349.1,876.8 1351.3,877.6 1353.5,877.9 1355.7,877.9 1357.7,878.5 1359.6,878.3 1361.5,877.6 1363.5,877.9 1365.5,881.2 1367.4,883.4 1369.3,886.6 1371.3,889.0 1373.0,890.2 1374.7,891.3 1376.9,892.7 1379.1,894.0 1381.3,895.7 1383.2,894.1 1385.0,892.5 1386.9,891.3 1389.1,891.5 1391.4,893.2 1393.6,893.5 1395.8,894.3 1398.0,894.9 1400.2,894.6 1402.4,894.1 1404.7,893.2 1406.9,892.4 1408.6,890.5 1410.3,887.9 1412.1,887.4 1414.0,888.1 1415.8,887.9 1418.0,888.9 1420.2,889.7 1422.5,890.9 1424.7,892.4 1426.9,892.7 1429.2,892.6 1431.4,893.2 1433.6,893.5 1435.8,891.9 1438.1,890.1 1440.1,890.4 1442.1,890.5 1444.1,891.5 1446.1,891.6 1448.1,892.4 1450.0,894.2 1451.8,896.4 1453.7,899.0 1455.9,898.5 1458.2,897.9 1460.4,898.4 1462.6,897.9 1464.8,898.2 1467.1,897.0 1469.3,896.8 1471.1,899.0 1473.0,901.1 1474.8,902.4 1476.5,900.1 1478.2,899.0 1480.4,899.3 1482.6,901.1 1484.8,902.0 1487.0,902.4 1489.2,902.6 1491.5,901.9 1493.7,902.4 1495.7,903.6 1497.7,905.6 1499.7,907.0 1501.7,908.2 1503.7,909.1 1505.9,909.0 1508.2,910.1 1510.4,909.7 1512.6,910.2 1514.5,909.6 1516.3,907.8 1518.2,908.1 1520.1,906.6 1521.9,905.8 1523.8,904.6 1525.8,905.3 1527.9,907.0 1529.9,908.1 1531.9,909.2 1534.0,910.0 1536.0,911.3 1538.2,911.1 1540.5,910.2 1542.7,911.4 1545.0,912.7 1547.2,913.9 1549.4,915.7 1551.6,917.4 1553.8,918.0 1556.1,919.5 1558.3,921.3 1560.2,920.3 1562.0,920.8 1563.8,920.3 1565.7,919.9 1567.6,918.8 1569.4,919.1 1571.6,919.3 1573.8,919.4 1576.1,919.4 1578.3,920.2 1580.3,919.8 1582.2,921.4 1584.2,920.5 1586.2,921.0 1588.1,921.2 1590.1,921.9 1592.1,921.5 1594.0,922.3 1596.0,922.6" fill="none" stroke="#0000cc" stroke-width="4.6" stroke-linejoin="round" clip-path="url(#plotclip)"/>
<polygon points="124.5,987.7 129.5,979.3 134.5,994.3 139.5,982.9 148.6,973.2 154.1,976.9 158.6,996.1 163.6,995.5 172.1,971.4 177.2,1004.5 182.2,964.2 186.7,988.9 192.2,976.3 196.7,996.7 200.7,969.6 204.7,966.0 210.8,984.1 214.8,969.6 223.3,906.1 231.2,902.1 238.0,870.9 248.5,856.9 252.5,824.4 257.6,836.5 262.6,842.5 267.1,837.1 272.1,864.1 276.6,852.1 281.1,856.9 286.1,851.5 290.7,834.1 299.2,831.0 304.7,841.3 310.7,835.3 314.7,794.4 319.2,817.2 323.7,801.0 328.8,810.6 333.3,814.2 339.3,828.6 344.3,827.4 348.8,800.4 352.8,800.4 357.4,814.8 361.4,819.6 365.9,811.2 371.4,828.0 380.4,813.0 384.4,812.4 390.0,796.8 395.0,810.0 400.0,836.3 408.0,778.7 413.0,812.3 418.0,819.5 424.0,809.9 428.0,812.3 433.0,785.9 436.0,800.3 443.0,797.9 447.0,799.1 452.0,826.7 456.0,803.9 461.0,806.3 466.0,813.5 471.0,801.5 475.0,823.1 480.0,763.1 485.0,817.1 490.0,817.1 494.0,773.9 498.0,788.3 503.0,785.9 509.0,817.1 517.0,805.1 523.0,766.7 531.0,819.5 537.0,823.1 541.0,776.3 546.0,772.7 551.0,791.9 556.0,802.7 561.0,777.5 565.0,785.9 570.0,815.9 575.0,783.5 580.0,778.7 584.0,791.9 590.0,782.3 594.0,782.3 599.0,776.3 603.0,791.9 608.0,800.3 612.0,784.7 617.0,801.5 622.0,790.7 626.0,784.7 631.0,805.1 636.0,785.9 641.0,794.3 646.0,775.1 651.0,787.1 656.0,778.7 660.0,777.5 665.0,791.9 670.0,779.9 674.0,761.9 679.0,743.9 684.0,746.3 688.0,759.5 693.0,790.7 697.0,755.9 703.0,755.9 707.0,770.3 712.0,757.1 717.0,759.5 722.0,769.1 727.0,760.7 731.0,755.9 736.0,763.1 741.0,759.5 745.0,770.3 754.0,775.1 760.0,753.5 769.0,751.1 774.0,783.5 779.0,742.7 788.0,763.1 793.0,745.1 798.0,757.1 802.0,751.1 807.0,776.3 812.0,754.7 817.0,754.7 821.0,772.7 826.0,751.1 831.0,754.7 836.0,745.1 841.0,745.1 845.0,722.3 850.0,721.1 854.0,727.1 859.0,699.5 868.0,718.7 873.0,706.7 878.0,724.7 883.0,724.7 888.0,729.5 892.0,741.5 897.0,703.1 903.0,709.1 909.0,704.3 915.0,697.1 922.0,713.9 929.0,724.7 935.0,701.9 943.0,713.9 949.0,700.7 954.0,718.7 959.0,706.7 964.0,705.5 970.0,675.5 977.0,650.3 987.0,694.7 992.0,663.5 997.0,658.7 1002.0,674.3 1008.0,661.1 1015.0,640.7 1024.0,688.7 1029.0,664.7 1034.0,675.5 1039.0,651.5 1048.0,673.1 1053.0,658.7 1058.0,669.5 1063.0,662.3 1067.0,596.3 1072.0,634.7 1076.0,615.5 1081.0,631.1 1086.0,665.9 1091.0,639.5 1096.0,638.3 1100.0,651.5 1105.0,640.7 1109.0,589.1 1114.0,586.7 1119.0,640.7 1124.0,602.3 1128.0,627.5 1133.0,602.3 1138.0,610.7 1144.0,627.5 1148.0,627.5 1153.0,607.1 1158.0,622.7 1162.0,617.9 1171.0,590.3 1176.0,627.5 1180.0,616.7 1185.0,656.3 1190.0,605.9 1195.0,602.3 1200.0,586.7 1204.0,583.1 1210.0,591.5 1215.0,613.1 1220.0,626.3 1224.0,627.5 1228.0,637.1 1233.0,601.1 1238.0,640.7 1243.0,634.7 1247.0,585.5 1252.0,616.7 1257.0,584.3 1261.0,637.1 1266.0,652.7 1271.0,631.1 1276.0,589.1 1280.0,601.1 1285.0,623.9 1290.0,602.3 1300.0,596.3 1305.0,598.7 1313.0,631.1 1318.0,605.9 1323.0,601.1 1333.0,620.3 1338.0,613.1 1342.0,614.3 1351.0,592.7 1356.0,598.7 1360.0,650.3 1365.0,651.5 1370.0,647.9 1379.0,611.9 1389.0,632.3 1394.0,626.3 1399.0,608.3 1403.0,615.5 1408.0,598.7 1413.0,614.3 1418.0,578.3 1423.0,583.1 1427.0,625.1 1432.0,591.5 1437.0,602.3 1441.0,638.3 1446.0,652.7 1451.0,607.1 1455.0,605.9 1460.0,653.9 1465.0,643.1 1470.0,655.1 1475.0,610.7 1479.0,632.3 1484.0,608.3 1489.0,622.7 1494.0,644.3 1502.0,614.3 1507.0,584.3 1512.0,620.3 1517.0,581.9 1522.0,628.7 1531.0,603.5 1536.0,627.5 1541.0,560.3 1546.0,599.9 1555.0,579.5 1559.0,644.3 1564.0,641.9 1569.0,646.7 1574.0,610.7 1579.0,592.7 1584.0,620.3 1588.0,604.7 1596.0,608.3 1596.0,779.7 1588.0,777.3 1584.0,787.7 1579.0,769.3 1574.0,781.3 1569.0,805.3 1564.0,802.1 1559.0,803.7 1555.0,760.5 1546.0,774.1 1541.0,747.7 1536.0,792.5 1531.0,776.5 1522.0,793.3 1517.0,762.1 1512.0,787.7 1507.0,763.7 1502.0,783.7 1494.0,803.7 1489.0,789.3 1484.0,779.7 1479.0,795.7 1475.0,781.3 1470.0,810.9 1465.0,802.9 1460.0,810.1 1455.0,778.1 1451.0,778.9 1446.0,809.3 1441.0,799.7 1437.0,775.7 1432.0,768.5 1427.0,790.9 1423.0,762.9 1418.0,759.7 1413.0,783.7 1408.0,773.3 1403.0,784.5 1399.0,779.7 1394.0,791.7 1389.0,795.7 1379.0,782.1 1370.0,806.1 1365.0,808.5 1360.0,807.7 1356.0,773.3 1351.0,769.3 1342.0,783.7 1338.0,782.9 1333.0,787.7 1323.0,774.9 1318.0,778.1 1313.0,794.9 1305.0,773.3 1300.0,771.7 1290.0,775.7 1285.0,790.1 1280.0,774.9 1276.0,766.9 1271.0,794.9 1266.0,809.3 1261.0,798.9 1257.0,763.7 1252.0,785.3 1247.0,764.5 1243.0,797.3 1238.0,801.3 1233.0,774.9 1228.0,798.9 1224.0,792.5 1220.0,791.7 1215.0,782.9 1210.0,768.5 1204.0,762.9 1200.0,765.3 1195.0,775.7 1190.0,778.1 1185.0,811.7 1180.0,785.3 1176.0,792.5 1171.0,767.7 1162.0,786.1 1158.0,789.3 1153.0,778.9 1148.0,792.5 1144.0,792.5 1138.0,781.3 1133.0,775.7 1128.0,792.5 1124.0,775.7 1119.0,801.3 1114.0,765.3 1109.0,766.9 1105.0,801.3 1100.0,808.5 1096.0,799.7 1091.0,800.5 1086.0,818.1 1081.0,794.9 1076.0,784.5 1072.0,797.3 1067.0,771.7 1063.0,815.7 1058.0,820.5 1053.0,813.3 1048.0,822.9 1039.0,808.5 1034.0,824.5 1029.0,817.3 1024.0,833.3 1015.0,801.3 1008.0,814.9 1002.0,823.7 997.0,813.3 992.0,816.5 987.0,837.3 977.0,807.7 970.0,824.5 964.0,844.5 959.0,845.3 954.0,853.3 949.0,841.3 943.0,850.1 935.0,842.1 929.0,857.3 922.0,850.1 915.0,838.9 909.0,843.7 903.0,846.9 897.0,842.9 892.0,868.5 888.0,860.5 883.0,857.3 878.0,857.3 873.0,845.3 868.0,853.3 859.0,840.5 854.0,858.9 850.0,854.9 845.0,855.7 841.0,870.9 836.0,870.9 831.0,877.3 826.0,874.9 821.0,889.3 817.0,877.3 812.0,877.3 807.0,891.7 802.0,874.9 798.0,878.9 793.0,870.9 788.0,882.9 779.0,869.3 774.0,896.5 769.0,874.9 760.0,876.5 754.0,890.9 745.0,887.7 741.0,880.5 736.0,882.9 731.0,878.1 727.0,881.3 722.0,886.9 717.0,880.5 712.0,878.9 707.0,887.7 703.0,878.1 697.0,878.1 693.0,901.3 688.0,880.5 684.0,871.7 679.0,870.1 674.0,882.1 670.0,894.1 665.0,902.1 660.0,892.5 656.0,893.3 651.0,898.9 646.0,890.9 641.0,903.7 636.0,898.1 631.0,910.9 626.0,897.3 622.0,901.3 617.0,908.5 612.0,897.3 608.0,907.7 603.0,902.1 599.0,891.7 594.0,895.7 590.0,895.7 584.0,902.1 580.0,893.3 575.0,896.5 570.0,918.1 565.0,898.1 561.0,892.5 556.0,909.3 551.0,902.1 546.0,889.3 541.0,891.7 537.0,922.9 531.0,920.5 523.0,885.3 517.0,910.9 509.0,918.9 503.0,898.1 498.0,899.7 494.0,890.1 490.0,918.9 485.0,918.9 480.0,882.9 475.0,922.9 471.0,908.5 466.0,916.5 461.0,911.7 456.0,910.1 452.0,925.3 447.0,906.9 443.0,906.1 436.0,907.7 433.0,898.1 428.0,915.7 424.0,914.1 418.0,920.5 413.0,915.7 408.0,893.3 400.0,931.7 395.0,914.2 390.0,905.4 384.4,915.8 380.4,916.2 371.4,926.2 365.9,915.0 361.4,920.6 357.4,917.4 352.8,907.8 348.8,907.8 344.3,925.8 339.3,926.6 333.3,917.0 328.8,914.6 323.7,908.2 319.2,919.0 314.7,903.8 310.7,931.1 304.7,935.1 299.2,928.2 290.7,930.3 286.1,941.9 281.1,945.5 276.6,942.3 272.1,950.3 267.1,932.3 262.6,935.9 257.6,931.9 252.5,923.8 248.5,945.5 238.0,954.7 231.2,975.5 223.3,978.3 214.8,1020.6 210.8,1030.3 204.7,1018.2 200.7,1020.6 196.7,1038.7 192.2,1025.1 186.7,1033.5 182.2,1017.0 177.2,1043.9 172.1,1021.8 163.6,1037.9 158.6,1038.3 154.1,1025.5 148.6,1023.0 139.5,1029.5 134.5,1037.1 129.5,1027.1 124.5,1032.7" fill="rgb(220,179,179)" fill-opacity="0.29"/>
<g stroke="#000" stroke-width="2.4" fill="none">
<path d="M124.6,252.2 L124.6,1142.2 L1595,1142.2"/>
</g>
<g stroke="#000" stroke-width="2.2">
<line x1="107.0" y1="1122.50" x2="124.6" y2="1122.50"/>
<line x1="115.4" y1="1043.42" x2="124.6" y2="1043.42"/>
<line x1="107.0" y1="964.34" x2="124.6" y2="964.34"/>
<line x1="115.4" y1="885.26" x2="124.6" y2="885.26"/>
<line x1="107.0" y1="806.18" x2="124.6" y2="806.18"/>
<line x1="115.4" y1="727.10" x2="124.6" y2="727.10"/>
<line x1="107.0" y1="648.02" x2="124.6" y2="648.02"/>
<line x1="115.4" y1="568.94" x2="124.6" y2="568.94"/>
<line x1="107.0" y1="489.86" x2="124.6" y2="489.86"/>
<line x1="115.4" y1="410.78" x2="124.6" y2="410.78"/>
<line x1="107.0" y1="331.70" x2="124.6" y2="331.70"/>
<line x1="115.4" y1="252.62" x2="124.6" y2="252.62"/>
<line x1="265.50" y1="1142" x2="265.50" y2="1160"/>
<line x1="407.50" y1="1142" x2="407.50" y2="1160"/>
<line x1="549.50" y1="1142" x2="549.50" y2="1160"/>
<line x1="691.50" y1="1142" x2="691.50" y2="1160"/>
<line x1="833.50" y1="1142" x2="833.50" y2="1160"/>
<line x1="975.50" y1="1142" x2="975.50" y2="1160"/>
<line x1="1117.50" y1="1142" x2="1117.50" y2="1160"/>
<line x1="1259.50" y1="1142" x2="1259.50" y2="1160"/>
<line x1="1401.50" y1="1142" x2="1401.50" y2="1160"/>
<line x1="1543.50" y1="1142" x2="1543.50" y2="1160"/>
</g>
<text x="83.10" y="1131.50" font-size="28">0</text>
<text x="82.85" y="973.34" font-size="28">4</text>
<text x="83.10" y="815.18" font-size="28">8</text>
<text x="67.85" y="657.02" font-size="28">12</text>
<text x="67.85" y="498.86" font-size="28">16</text>
<text x="67.60" y="340.70" font-size="28">20</text>
<text x="229.83" y="1192.60" font-size="28" textLength="71.42" lengthAdjust="spacingAndGlyphs">09:30</text>
<text x="370.78" y="1192.60" font-size="28" textLength="72.48" lengthAdjust="spacingAndGlyphs">10:00</text>
<text x="512.78" y="1192.60" font-size="28" textLength="72.48" lengthAdjust="spacingAndGlyphs">10:30</text>
<text x="654.72" y="1192.60" font-size="28" textLength="72.50" lengthAdjust="spacingAndGlyphs">11:00</text>
<text x="796.72" y="1192.60" font-size="28" textLength="72.50" lengthAdjust="spacingAndGlyphs">11:30</text>
<text x="938.78" y="1192.60" font-size="28" textLength="72.48" lengthAdjust="spacingAndGlyphs">12:00</text>
<text x="1080.78" y="1192.60" font-size="28" textLength="72.48" lengthAdjust="spacingAndGlyphs">12:30</text>
<text x="1222.78" y="1192.60" font-size="28" textLength="72.48" lengthAdjust="spacingAndGlyphs">13:00</text>
<text x="1364.78" y="1192.60" font-size="28" textLength="72.48" lengthAdjust="spacingAndGlyphs">13:30</text>
<text x="1506.78" y="1192.60" font-size="28" textLength="72.48" lengthAdjust="spacingAndGlyphs">14:00</text>
<text x="795.07" y="1231.40" font-size="28" textLength="65.16" lengthAdjust="spacingAndGlyphs">Time</text>
<text x="866.85" y="1231.40" font-size="28">(</text>
<text x="874.28" y="1231.40" font-size="20" textLength="41.74" lengthAdjust="spacingAndGlyphs">UTC</text>
<text x="916.05" y="1231.40" font-size="28">)</text>
<text transform="translate(33.9,883) rotate(-90)" x="-1.54" y="0" font-size="28" textLength="384.42" lengthAdjust="spacingAndGlyphs">Gas-phase mixing ratio (ppbv)</text>
<line x1="672.5" y1="59.7" x2="672.5" y2="1142" stroke="#000" stroke-width="2.3" stroke-dasharray="26 21.06" stroke-dashoffset="13.2"/>
<line x1="1108.1" y1="59.7" x2="1108.1" y2="1142" stroke="#000" stroke-width="2.3" stroke-dasharray="26 21.06" stroke-dashoffset="13.2"/>
<polyline points="124.5,1010.2 129.5,1003.2 134.5,1015.7 139.5,1006.2 148.6,998.1 154.1,1001.2 158.6,1017.2 163.6,1016.7 172.1,996.6 177.2,1024.2 182.2,990.6 186.7,1011.2 192.2,1000.7 196.7,1017.7 200.7,995.1 204.7,992.1 210.8,1007.2 214.8,995.1 223.3,942.2 231.2,938.8 238.0,912.8 248.5,901.2 252.5,874.1 257.6,884.2 262.6,889.2 267.1,884.7 272.1,907.2 276.6,897.2 281.1,901.2 286.1,896.7 290.7,882.2 299.2,879.6 304.7,888.2 310.7,883.2 314.7,849.1 319.2,868.1 323.7,854.6 328.8,862.6 333.3,865.6 339.3,877.6 344.3,876.6 348.8,854.1 352.8,854.1 357.4,866.1 361.4,870.1 365.9,863.1 371.4,877.1 380.4,864.6 384.4,864.1 390.0,851.1 395.0,862.1 400.0,884.0 408.0,836.0 413.0,864.0 418.0,870.0 424.0,862.0 428.0,864.0 433.0,842.0 436.0,854.0 443.0,852.0 447.0,853.0 452.0,876.0 456.0,857.0 461.0,859.0 466.0,865.0 471.0,855.0 475.0,873.0 480.0,823.0 485.0,868.0 490.0,868.0 494.0,832.0 498.0,844.0 503.0,842.0 509.0,868.0 517.0,858.0 523.0,826.0 531.0,870.0 537.0,873.0 541.0,834.0 546.0,831.0 551.0,847.0 556.0,856.0 561.0,835.0 565.0,842.0 570.0,867.0 575.0,840.0 580.0,836.0 584.0,847.0 590.0,839.0 594.0,839.0 599.0,834.0 603.0,847.0 608.0,854.0 612.0,841.0 617.0,855.0 622.0,846.0 626.0,841.0 631.0,858.0 636.0,842.0 641.0,849.0 646.0,833.0 651.0,843.0 656.0,836.0 660.0,835.0 665.0,847.0 670.0,837.0 674.0,822.0 679.0,807.0 684.0,809.0 688.0,820.0 693.0,846.0 697.0,817.0 703.0,817.0 707.0,829.0 712.0,818.0 717.0,820.0 722.0,828.0 727.0,821.0 731.0,817.0 736.0,823.0 741.0,820.0 745.0,829.0 754.0,833.0 760.0,815.0 769.0,813.0 774.0,840.0 779.0,806.0 788.0,823.0 793.0,808.0 798.0,818.0 802.0,813.0 807.0,834.0 812.0,816.0 817.0,816.0 821.0,831.0 826.0,813.0 831.0,816.0 836.0,808.0 841.0,808.0 845.0,789.0 850.0,788.0 854.0,793.0 859.0,770.0 868.0,786.0 873.0,776.0 878.0,791.0 883.0,791.0 888.0,795.0 892.0,805.0 897.0,773.0 903.0,778.0 909.0,774.0 915.0,768.0 922.0,782.0 929.0,791.0 935.0,772.0 943.0,782.0 949.0,771.0 954.0,786.0 959.0,776.0 964.0,775.0 970.0,750.0 977.0,729.0 987.0,766.0 992.0,740.0 997.0,736.0 1002.0,749.0 1008.0,738.0 1015.0,721.0 1024.0,761.0 1029.0,741.0 1034.0,750.0 1039.0,730.0 1048.0,748.0 1053.0,736.0 1058.0,745.0 1063.0,739.0 1067.0,684.0 1072.0,716.0 1076.0,700.0 1081.0,713.0 1086.0,742.0 1091.0,720.0 1096.0,719.0 1100.0,730.0 1105.0,721.0 1109.0,678.0 1114.0,676.0 1119.0,721.0 1124.0,689.0 1128.0,710.0 1133.0,689.0 1138.0,696.0 1144.0,710.0 1148.0,710.0 1153.0,693.0 1158.0,706.0 1162.0,702.0 1171.0,679.0 1176.0,710.0 1180.0,701.0 1185.0,734.0 1190.0,692.0 1195.0,689.0 1200.0,676.0 1204.0,673.0 1210.0,680.0 1215.0,698.0 1220.0,709.0 1224.0,710.0 1228.0,718.0 1233.0,688.0 1238.0,721.0 1243.0,716.0 1247.0,675.0 1252.0,701.0 1257.0,674.0 1261.0,718.0 1266.0,731.0 1271.0,713.0 1276.0,678.0 1280.0,688.0 1285.0,707.0 1290.0,689.0 1300.0,684.0 1305.0,686.0 1313.0,713.0 1318.0,692.0 1323.0,688.0 1333.0,704.0 1338.0,698.0 1342.0,699.0 1351.0,681.0 1356.0,686.0 1360.0,729.0 1365.0,730.0 1370.0,727.0 1379.0,697.0 1389.0,714.0 1394.0,709.0 1399.0,694.0 1403.0,700.0 1408.0,686.0 1413.0,699.0 1418.0,669.0 1423.0,673.0 1427.0,708.0 1432.0,680.0 1437.0,689.0 1441.0,719.0 1446.0,731.0 1451.0,693.0 1455.0,692.0 1460.0,732.0 1465.0,723.0 1470.0,733.0 1475.0,696.0 1479.0,714.0 1484.0,694.0 1489.0,706.0 1494.0,724.0 1502.0,699.0 1507.0,674.0 1512.0,704.0 1517.0,672.0 1522.0,711.0 1531.0,690.0 1536.0,710.0 1541.0,654.0 1546.0,687.0 1555.0,670.0 1559.0,724.0 1564.0,722.0 1569.0,726.0 1574.0,696.0 1579.0,681.0 1584.0,704.0 1588.0,691.0 1596.0,694.0" fill="none" stroke="#990000" stroke-width="4" stroke-linejoin="round"/>
<line x1="1273.2" y1="345.6" x2="1292.8" y2="345.6" stroke="#000" stroke-width="4.6"/>
<line x1="1273.2" y1="375.9" x2="1292.8" y2="375.9" stroke="#0000cc" stroke-width="4.6"/>
<line x1="1273.2" y1="405.4" x2="1292.8" y2="405.4" stroke="#990000" stroke-width="4.6"/>
<text x="1302.73" y="353.90" font-size="28" textLength="188.38" lengthAdjust="spacingAndGlyphs">Formaldehyde</text>
<text x="1303.11" y="384.00" font-size="28" textLength="161.78" lengthAdjust="spacingAndGlyphs">Methanediol</text>
<text x="1302.90" y="413.30" font-size="28" textLength="154.11" lengthAdjust="spacingAndGlyphs">Formic acid</text>
<text transform="translate(191.0,947.0) rotate(-90)" x="-2.50" y="0" font-size="29.5" fill="#fd8b08" textLength="231.43" lengthAdjust="spacingAndGlyphs">Formalin injection</text>
<text transform="translate(1138.5,1049.3) rotate(-90)" x="-1.51" y="0" font-size="29.5" fill="#fd8b08" textLength="156.60" lengthAdjust="spacingAndGlyphs">CO addition</text>
<text x="238.17" y="1110.60" font-size="28" textLength="58.43" lengthAdjust="spacingAndGlyphs">[OH]</text>
<text x="296.62" y="1120.10" font-size="20" textLength="13.10" lengthAdjust="spacingAndGlyphs">g</text>
<text x="316.53" y="1110.60" font-size="28" textLength="17.96" lengthAdjust="spacingAndGlyphs">=</text>
<text x="342.15" y="1110.60" font-size="28" textLength="16.38" lengthAdjust="spacingAndGlyphs">0</text>
<text x="366.15" y="1110.60" font-size="28" textLength="133.58" lengthAdjust="spacingAndGlyphs">molecules</text>
<text x="506.61" y="1110.60" font-size="28" textLength="41.41" lengthAdjust="spacingAndGlyphs">cm</text>
<text x="546.58" y="1101.00" font-size="20" textLength="23.24" lengthAdjust="spacingAndGlyphs">−3</text>
<text x="685.37" y="1110.60" font-size="28" textLength="58.43" lengthAdjust="spacingAndGlyphs">[OH]</text>
<text x="743.82" y="1120.10" font-size="20" textLength="13.10" lengthAdjust="spacingAndGlyphs">g</text>
<text x="763.73" y="1110.60" font-size="28" textLength="17.96" lengthAdjust="spacingAndGlyphs">=</text>
<text x="788.99" y="1110.60" font-size="28" textLength="16.73" lengthAdjust="spacingAndGlyphs">7</text>
<text x="811.47" y="1114.10" font-size="34" textLength="20.12" lengthAdjust="spacingAndGlyphs">×</text>
<text x="838.01" y="1110.60" font-size="28" textLength="32.48" lengthAdjust="spacingAndGlyphs">10</text>
<text x="870.01" y="1101.00" font-size="20" textLength="12.15" lengthAdjust="spacingAndGlyphs">6</text>
<text x="889.45" y="1110.60" font-size="28" textLength="133.58" lengthAdjust="spacingAndGlyphs">molecules</text>
<text x="1029.32" y="1110.60" font-size="28" textLength="41.08" lengthAdjust="spacingAndGlyphs">cm</text>
<text x="1069.28" y="1101.00" font-size="20" textLength="23.24" lengthAdjust="spacingAndGlyphs">−3</text>
<text x="1193.27" y="1110.60" font-size="28" textLength="58.43" lengthAdjust="spacingAndGlyphs">[OH]</text>
<text x="1251.72" y="1120.10" font-size="20" textLength="13.10" lengthAdjust="spacingAndGlyphs">g</text>
<text x="1271.63" y="1110.60" font-size="28" textLength="17.96" lengthAdjust="spacingAndGlyphs">=</text>
<text x="1297.25" y="1110.60" font-size="28" textLength="16.38" lengthAdjust="spacingAndGlyphs">0</text>
<text x="1321.25" y="1110.60" font-size="28" textLength="133.58" lengthAdjust="spacingAndGlyphs">molecules</text>
<text x="1461.71" y="1110.60" font-size="28" textLength="41.41" lengthAdjust="spacingAndGlyphs">cm</text>
<text x="1501.68" y="1101.00" font-size="20" textLength="23.24" lengthAdjust="spacingAndGlyphs">−3</text>
</svg>
</body></html>
